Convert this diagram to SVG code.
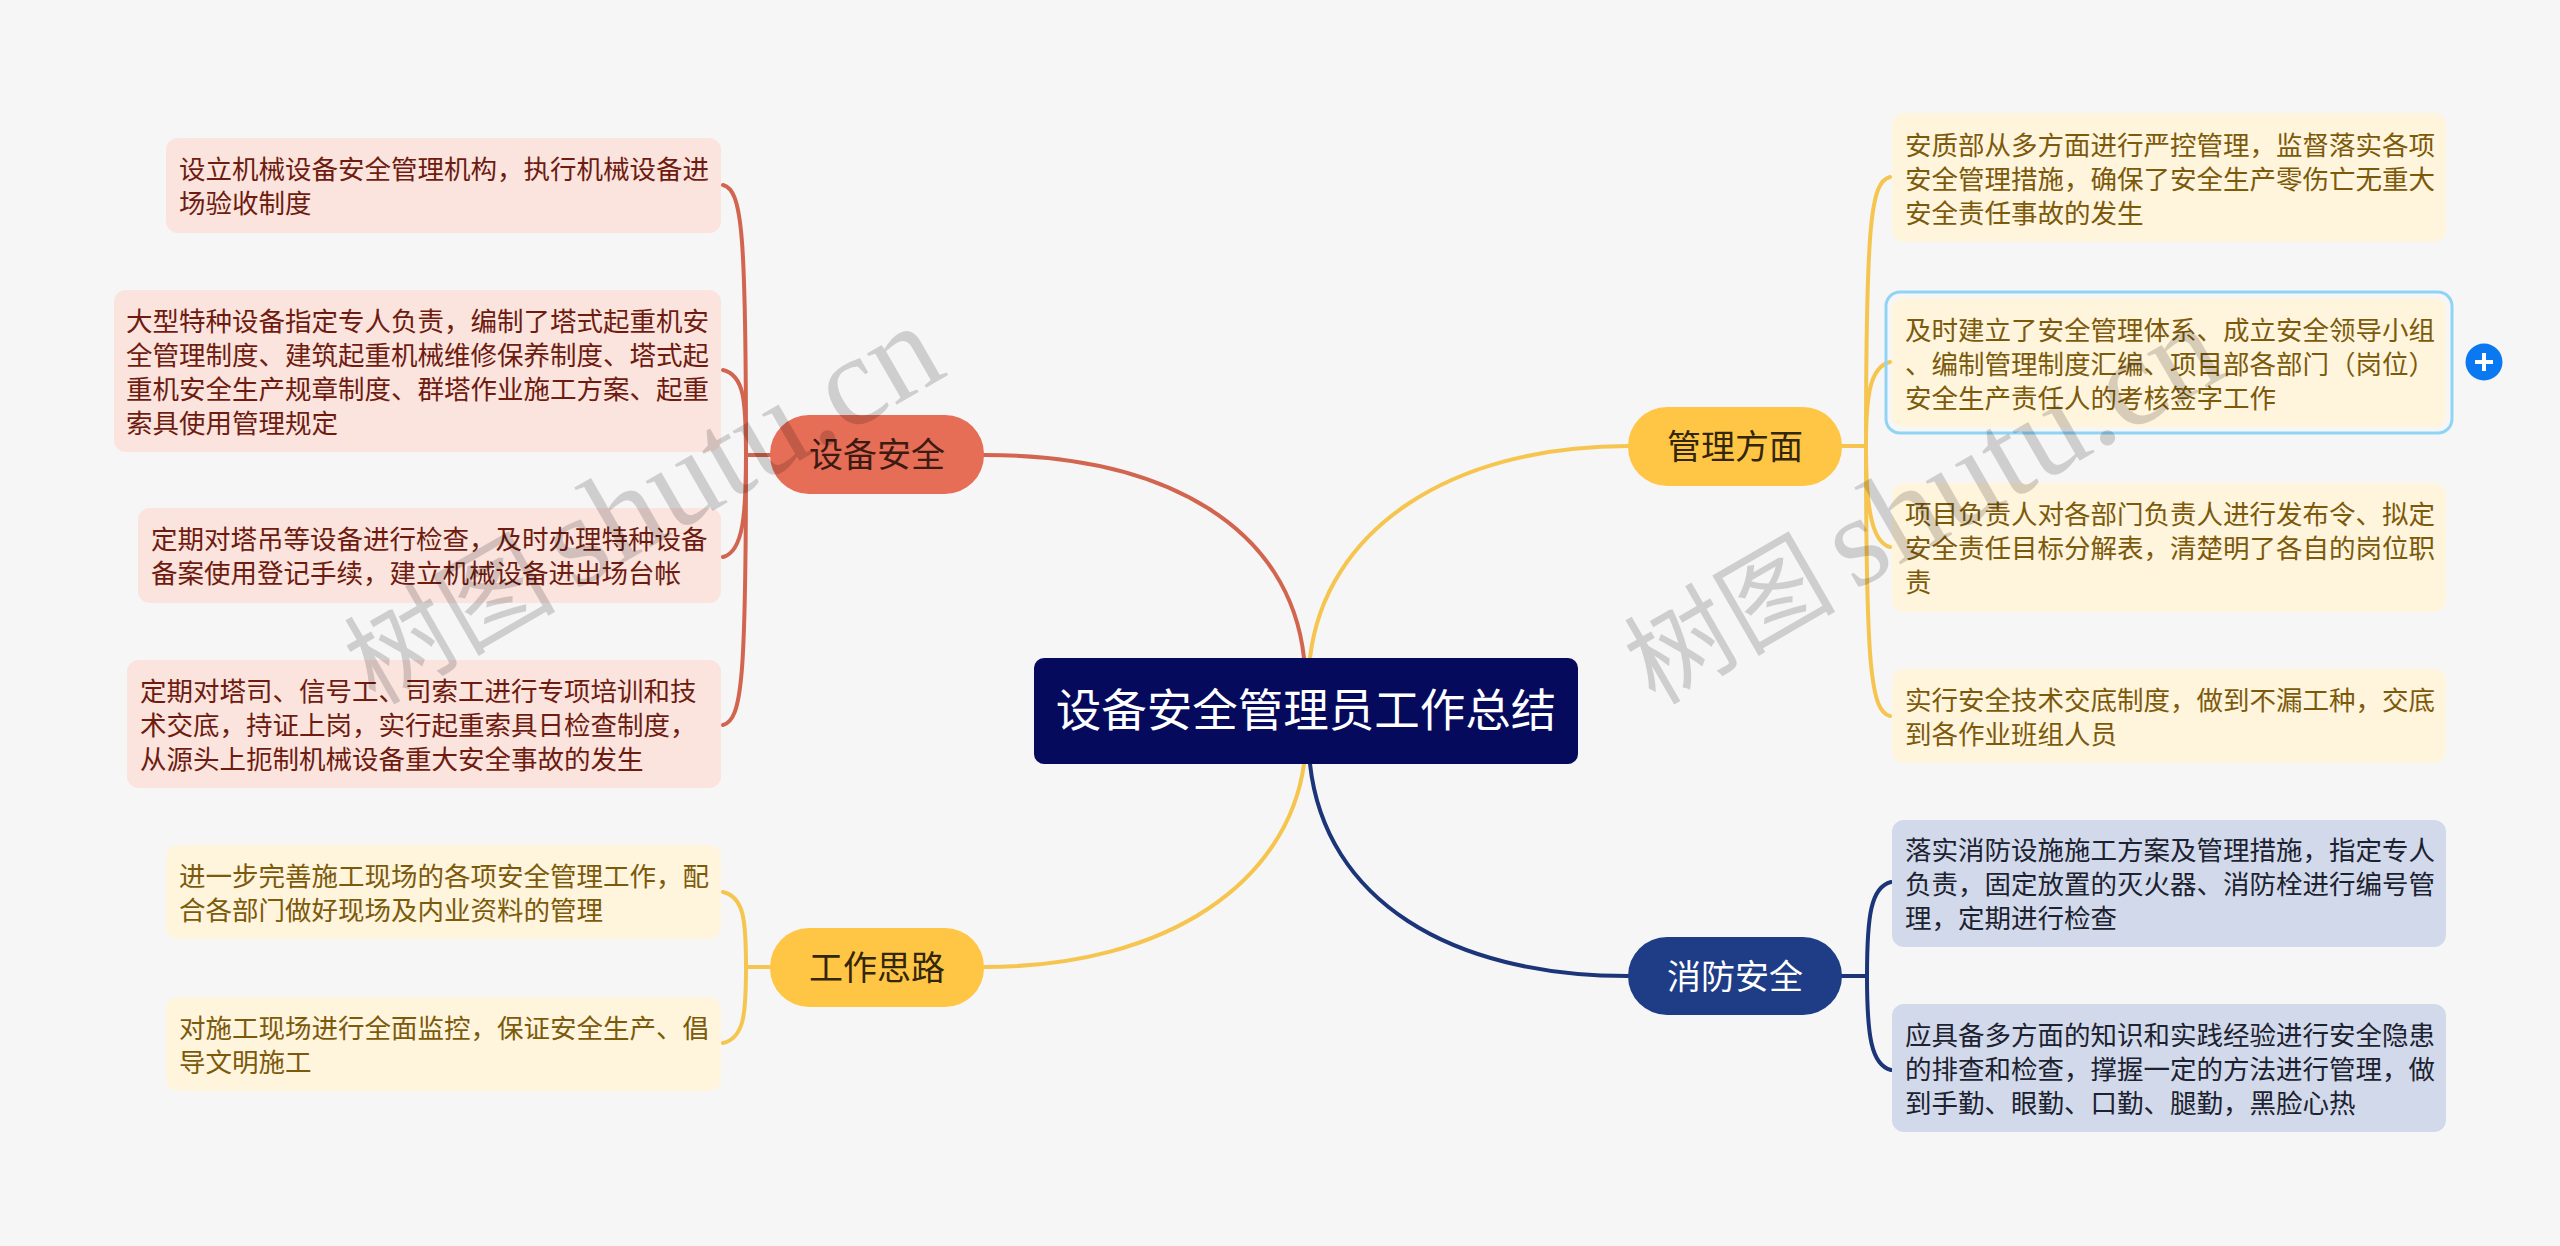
<svg xmlns="http://www.w3.org/2000/svg" width="2560" height="1246" viewBox="0 0 2560 1246">
<style>
text{font-family:"Noto Sans CJK SC","Liberation Sans",sans-serif}
.leaf{font-size:26.5px}
.branch{font-size:34px;text-anchor:middle}
.conn path{fill:none;stroke-width:4;stroke-linecap:round}
.r{stroke:#d2654f}.y{stroke:#f5c54f}.n{stroke:#1c3578}
.lr rect{fill:#fbe3de}.lr text{fill:#6e1c10}
.ly rect{fill:#fff4dc}.ly text{fill:#7c5a0c}
.ln rect{fill:#d2d9ea}.ln text{fill:#1c2230}
.wm{font-family:"Liberation Serif","Noto Sans CJK SC",serif;font-size:129px;fill:#000;fill-opacity:.16}
.wm .c{font-family:"Noto Sans CJK SC",serif;font-size:106px}
</style>
<rect width="2560" height="1246" fill="#f6f6f6"/>
<g id="connectors" class="conn">
<path class="r" d="M984 455C1170 455 1290 530 1304 658"/>
<path class="y" d="M1628 446C1450 446 1325 530 1310 658"/>
<path class="y" d="M984 967C1170 967 1288 880 1304 764"/>
<path class="n" d="M1628 976C1450 976 1325 900 1310 764"/>
<path class="r" d="M770 455H746C746 230 742 190 723 185"/>
<path class="r" d="M770 455H746C746 400 744 375 723 370"/>
<path class="r" d="M770 455H746C746 510 744 552 723 557"/>
<path class="r" d="M770 455H746C746 680 742 720 723 725"/>
<path class="y" d="M770 967H746C746 920 744 897 723 892"/>
<path class="y" d="M770 967H746C746 1015 744 1038 723 1043"/>
<path class="y" d="M1842 446H1866C1866 220 1871 182 1890 177"/>
<path class="y" d="M1842 446H1866C1866 395 1870 367 1890 362"/>
<path class="y" d="M1842 446H1866C1866 500 1870 542 1890 547"/>
<path class="y" d="M1842 446H1866C1866 670 1871 711 1890 716"/>
<path class="n" d="M1842 976H1867C1867 915 1871 887 1891 882"/>
<path class="n" d="M1842 976H1867C1867 1035 1871 1065 1891 1070"/>
</g>
<g id="root"><rect x="1034" y="658" width="544" height="106" rx="10" fill="#050a5c"/><text x="1306" y="727" font-size="45.5" text-anchor="middle" fill="#fff">设备安全管理员工作总结</text></g>
<g id="b1"><rect x="770" y="415" width="214" height="79" rx="39" fill="#e66d56"/><text class="branch" x="877" y="467" fill="#3d1a12">设备安全</text></g>
<g id="b2"><rect x="770" y="928" width="214" height="79" rx="39" fill="#ffc645"/><text class="branch" x="877" y="980" fill="#33260a">工作思路</text></g>
<g id="b3"><rect x="1628" y="407" width="214" height="79" rx="39" fill="#ffc645"/><text class="branch" x="1735" y="459" fill="#33260a">管理方面</text></g>
<g id="b4"><rect x="1628" y="937" width="214" height="78" rx="39" fill="#1f3d87"/><text class="branch" x="1735" y="989" fill="#fff">消防安全</text></g>
<g id="n1" class="leaf lr"><rect x="166" y="138" width="555" height="95" rx="12"/><text x="179" y="179">设立机械设备安全管理机构，执行机械设备进</text><text x="179" y="213">场验收制度</text></g>
<g id="n2" class="leaf lr"><rect x="114" y="290" width="607" height="162" rx="12"/><text x="126" y="331">大型特种设备指定专人负责，编制了塔式起重机安</text><text x="126" y="365">全管理制度、建筑起重机械维修保养制度、塔式起</text><text x="126" y="399">重机安全生产规章制度、群塔作业施工方案、起重</text><text x="126" y="433">索具使用管理规定</text></g>
<g id="n3" class="leaf lr"><rect x="138" y="508" width="583" height="95" rx="12"/><text x="151" y="549">定期对塔吊等设备进行检查，及时办理特种设备</text><text x="151" y="583">备案使用登记手续，建立机械设备进出场台帐</text></g>
<g id="n4" class="leaf lr"><rect x="127" y="660" width="594" height="128" rx="12"/><text x="140" y="701">定期对塔司、信号工、司索工进行专项培训和技</text><text x="140" y="735">术交底，持证上岗，实行起重索具日检查制度，</text><text x="140" y="769">从源头上扼制机械设备重大安全事故的发生</text></g>
<g id="n5" class="leaf ly"><rect x="166" y="845" width="555" height="94" rx="12"/><text x="179" y="886">进一步完善施工现场的各项安全管理工作，配</text><text x="179" y="920">合各部门做好现场及内业资料的管理</text></g>
<g id="n6" class="leaf ly"><rect x="166" y="997" width="555" height="94" rx="12"/><text x="179" y="1038">对施工现场进行全面监控，保证安全生产、倡</text><text x="179" y="1072">导文明施工</text></g>
<g id="n7" class="leaf ly"><rect x="1892" y="113" width="554" height="129" rx="12"/><text x="1905" y="155">安质部从多方面进行严控管理，监督落实各项</text><text x="1905" y="189">安全管理措施，确保了安全生产零伤亡无重大</text><text x="1905" y="223">安全责任事故的发生</text></g>
<g id="n8" class="leaf ly"><rect x="1892" y="298" width="554" height="129" rx="12"/><rect x="1886" y="292" width="566" height="141" rx="14" style="fill:none;stroke:#8fd3f5;stroke-width:3"/><text x="1905" y="340">及时建立了安全管理体系、成立安全领导小组</text><text x="1905" y="374">、编制管理制度汇编、项目部各部门（岗位）</text><text x="1905" y="408">安全生产责任人的考核签字工作</text></g>
<g id="n9" class="leaf ly"><rect x="1892" y="483" width="554" height="129" rx="12"/><text x="1905" y="524">项目负责人对各部门负责人进行发布令、拟定</text><text x="1905" y="558">安全责任目标分解表，清楚明了各自的岗位职</text><text x="1905" y="592">责</text></g>
<g id="n10" class="leaf ly"><rect x="1892" y="669" width="554" height="94" rx="12"/><text x="1905" y="710">实行安全技术交底制度，做到不漏工种，交底</text><text x="1905" y="744">到各作业班组人员</text></g>
<g id="n11" class="leaf ln"><rect x="1892" y="820" width="554" height="127" rx="12"/><text x="1905" y="860">落实消防设施施工方案及管理措施，指定专人</text><text x="1905" y="894">负责，固定放置的灭火器、消防栓进行编号管</text><text x="1905" y="928">理，定期进行检查</text></g>
<g id="n12" class="leaf ln"><rect x="1892" y="1004" width="554" height="128" rx="12"/><text x="1905" y="1045">应具备多方面的知识和实践经验进行安全隐患</text><text x="1905" y="1079">的排查和检查，撑握一定的方法进行管理，做</text><text x="1905" y="1113">到手勤、眼勤、口勤、腿勤，黑脸心热</text></g>
<g id="plus"><circle cx="2484" cy="362" r="18.5" fill="#0a78f0"/><path d="M2475 362H2493M2484 353V371" stroke="#fff" stroke-width="4" fill="none"/></g>
<g id="watermarks">
<text class="wm" transform="translate(375 706) rotate(-30)"><tspan class="c">树图</tspan><tspan dx="-14"> shutu.cn</tspan></text>
<text class="wm" transform="translate(1655 706) rotate(-30)"><tspan class="c">树图</tspan><tspan dx="-14"> shutu.cn</tspan></text>
</g>
</svg>
